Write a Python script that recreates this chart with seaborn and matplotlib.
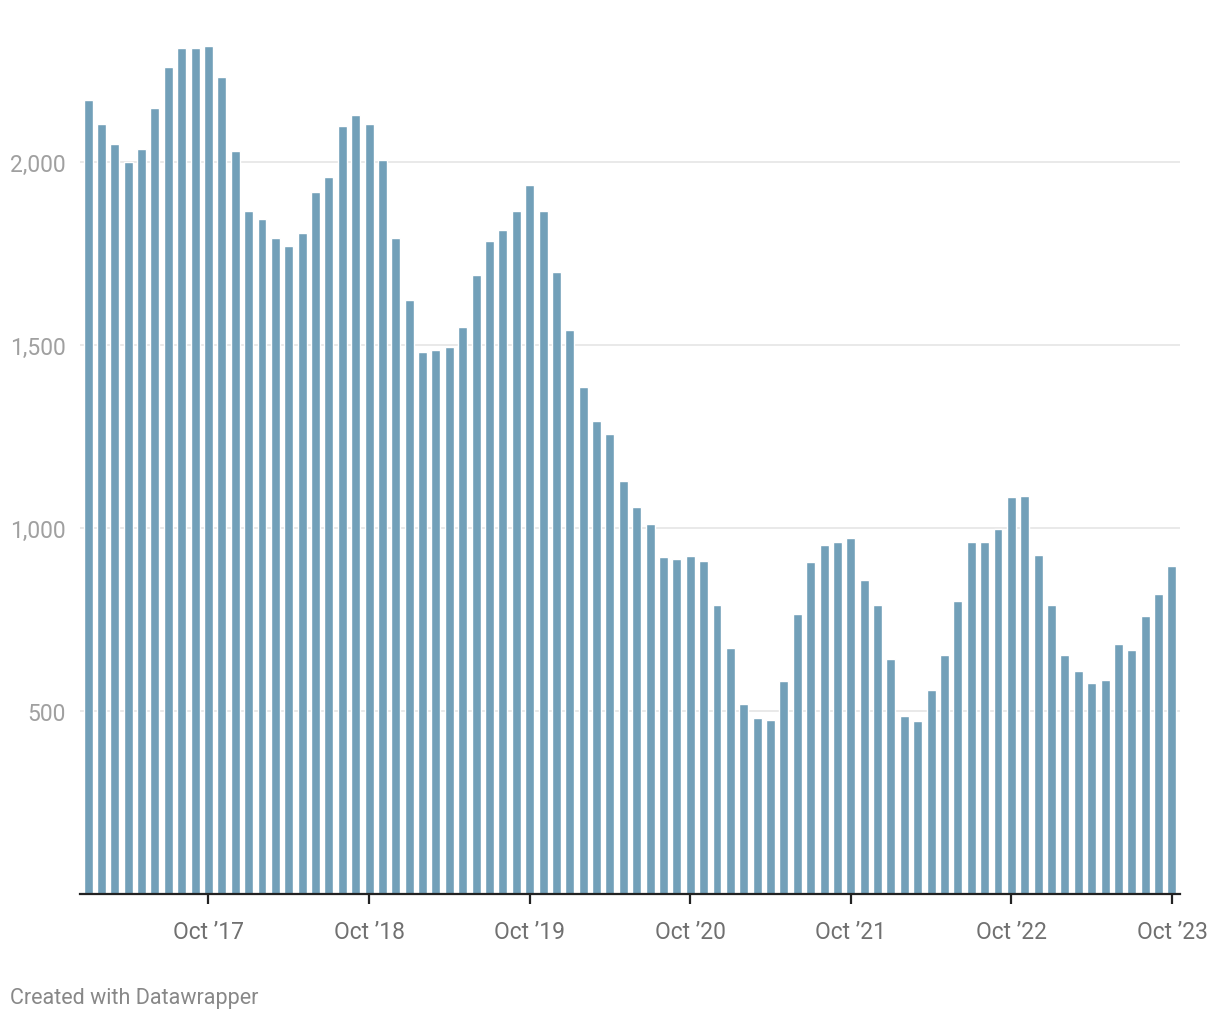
import matplotlib
matplotlib.use("Agg")
import matplotlib.pyplot as plt
import seaborn as sns
import pandas as pd

months = pd.date_range("2017-01-01", "2023-10-01", freq="MS")
values = [
    2170, 2104, 2049, 2000, 2036, 2148, 2261, 2313, 2313, 2318, 2233, 2030,
    1866, 1844, 1792, 1770, 1808, 1918, 1959, 2099, 2129, 2104, 2006, 1792,
    1624, 1481, 1487, 1495, 1550, 1693, 1786, 1816, 1866, 1937, 1868, 1701,
    1542, 1385, 1292, 1257, 1130, 1059, 1012, 922, 916, 925, 911, 790,
    672, 519, 480, 475, 582, 765, 908, 955, 963, 974, 859, 790,
    642, 486, 472, 557, 653, 801, 963, 963, 999, 1084, 1089, 927,
    790, 653, 609, 576, 584, 683, 667, 760, 820, 897,
]
tick_labels = ["Oct \u201917", "Oct \u201918", "Oct \u201919", "Oct \u201920",
               "Oct \u201921", "Oct \u201922", "Oct \u201923"]
y_ticks = [500, 1000, 1500, 2000]
y_tick_labels = ["500", "1,000", "1,500", "2,000"]

df = pd.DataFrame({"month": [m.strftime("%Y-%m") for m in months], "value": values})

sns.set_theme(style="white")
plt.rcParams["font.family"] = ["Roboto", "DejaVu Sans"]

fig = plt.figure(figsize=(12.2, 10.2), dpi=100)
ax = fig.add_axes([80 / 1220, 125 / 1020, 1100 / 1220, 878 / 1020])

sns.barplot(data=df, x="month", y="value", color="#72a0b9", saturation=1,
            width=0.67, ax=ax, zorder=3)

ax.set_xlim(-0.6, 81.6)
ax.set_ylim(0, 2400)
for s in ["top", "right", "left"]:
    ax.spines[s].set_visible(False)
ax.spines["bottom"].set_color("#222222")
ax.spines["bottom"].set_linewidth(1.6)
ax.spines["bottom"].set_zorder(5)

ax.set_yticks(y_ticks)
ax.set_yticklabels(y_tick_labels)
ax.grid(axis="y", color="#e5e5e5", linewidth=1.2, zorder=0)
ax.tick_params(axis="y", length=0, pad=10, labelsize=16.5, labelcolor="#a0a0a0")

tick_idx = [i for i, m in enumerate(months) if m.month == 10]
ax.set_xticks(tick_idx)
ax.set_xticklabels(tick_labels)
ax.tick_params(axis="x", length=7, width=1.6, color="#222222", pad=12,
               labelsize=16.5, labelcolor="#707070", bottom=True)
ax.set_xlabel("")
ax.set_ylabel("")

fig.text(10 / 1220, 1 - 999 / 1020, "Created with Datawrapper", fontsize=15.5,
         color="#888888", va="center", ha="left")

fig.savefig("out.png", dpi=100, facecolor="white")
